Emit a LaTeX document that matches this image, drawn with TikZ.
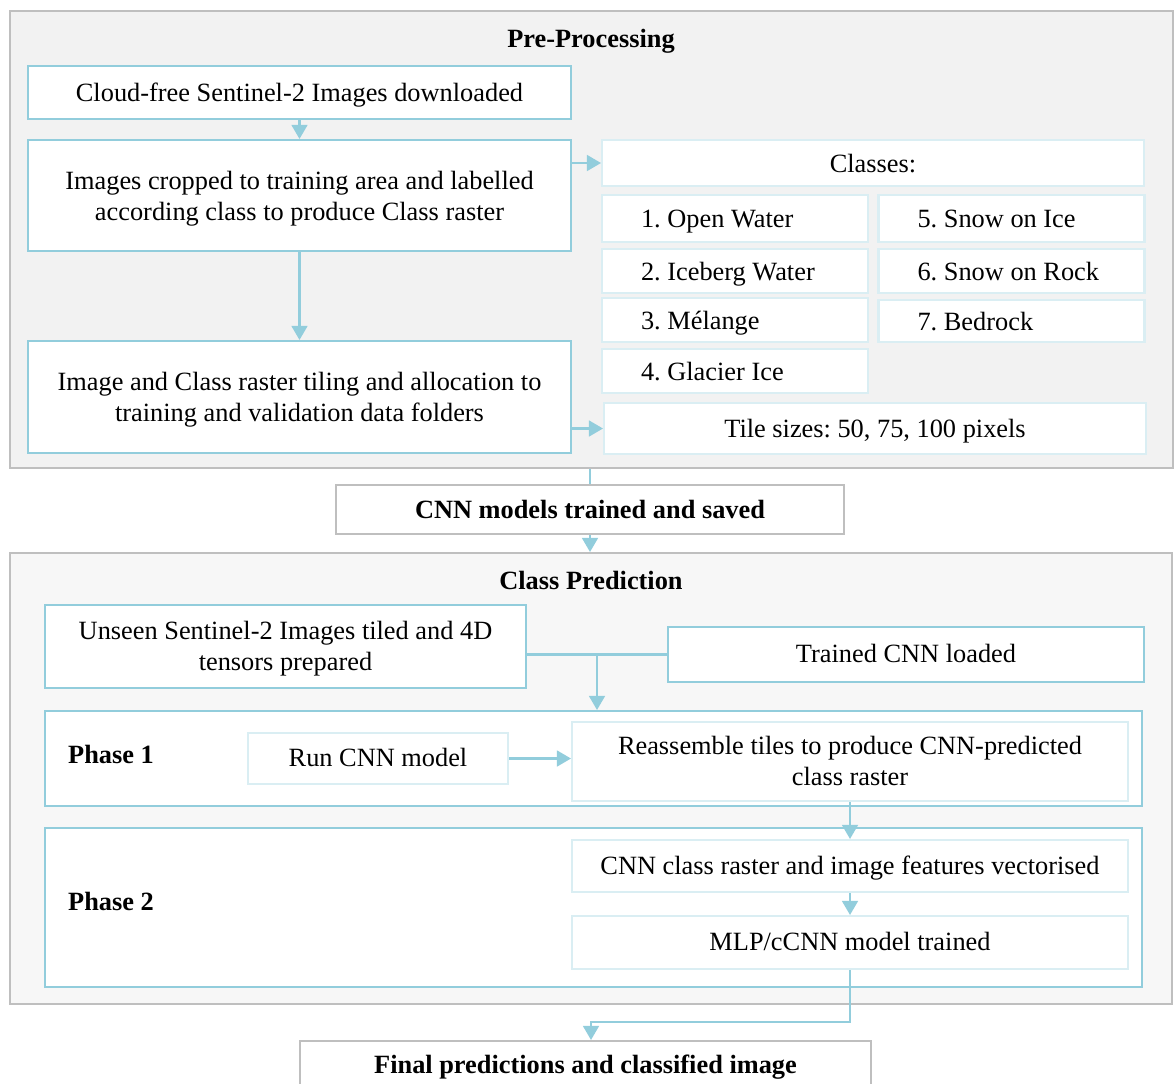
\documentclass[tikz,border=0pt]{standalone}
\usepackage{fontspec}
\setmainfont{Liberation Serif}
\usepackage{xcolor}
\usepackage{tikz}
\usetikzlibrary{arrows.meta,calc}

\definecolor{aqua}{HTML}{92CDDC}
\definecolor{aqualight}{HTML}{DAEEF3}
\definecolor{greyline}{HTML}{BFBFBF}
\definecolor{prefill}{HTML}{F2F2F2}
\definecolor{predfill}{HTML}{F7F7F7}

\begin{document}
\begin{tikzpicture}[x=0.02cm, y=-0.02cm,
  every node/.style={font=\fontsize{15}{17.6}\selectfont\frenchspacing},
  container/.style={rectangle, draw=greyline, line width=1.2pt, fill=#1},
  stepbox/.style={rectangle, draw=aqua, line width=1.2pt, fill=white, align=center},
  classbox/.style={rectangle, draw=aqualight, line width=1.2pt, fill=white, align=center},
  listbox/.style={classbox, align=flush left, text width=3.76cm, inner xsep=0.78cm},
  outcome/.style={rectangle, draw=greyline, line width=1.2pt, fill=white, font=\fontsize{15}{17.6}\selectfont\bfseries},
  heading/.style={font=\fontsize{15}{17.6}\selectfont\bfseries},
  link/.style={draw=aqua, line width=1.2pt},
  flow/.style={link, -{Triangle[length=8pt, width=9pt]}}]
\useasboundingbox (0,0) rectangle (1175,1083);
\clip (0,0) rectangle (1175,1083);

% pre-processing
\node (prepro) [container=prefill, minimum width=23.26cm, minimum height=9.14cm] at (591.5,239.5) {};
\begin{scope}[every node/.append style={text depth=-1.5pt}]
\node (pretitle) [heading] at (591,38) {Pre-Processing};
\node (cloud) [stepbox, minimum width=10.86cm, minimum height=1.06cm] at (299.5,92.5) {Cloud-free Sentinel-2 Images downloaded};
\node (crop) [stepbox, minimum width=10.86cm, minimum height=2.22cm] at (299.5,195.5) {Images cropped to training area and labelled\\according class to produce Class raster};
\node (tiling) [stepbox, minimum width=10.86cm, minimum height=2.24cm] at (299.5,397) {Image and Class raster tiling and allocation to\\training and validation data folders};

% classes
\node (classes) [classbox, minimum width=10.84cm, minimum height=0.92cm] at (873,163) {Classes:};
\node (open) [listbox, minimum height=0.94cm] at (735,218.5) {1. Open Water};
\node (iceberg) [listbox, minimum height=0.88cm] at (735,271) {2. Iceberg Water};
\node (melange) [listbox, minimum height=0.88cm] at (735,320) {3. Mélange};
\node (glacier) [listbox, minimum height=0.88cm] at (735,371) {4. Glacier Ice};
\node (snowice) [listbox, minimum height=0.94cm] at (1011.5,218.5) {5. Snow on Ice};
\node (snowrock) [listbox, minimum height=0.88cm] at (1011.5,271) {6. Snow on Rock};
\node (bedrock) [listbox, minimum height=0.84cm] at (1011.5,321) {7. Bedrock};
\node (tiles) [classbox, minimum width=10.84cm, minimum height=1.02cm] at (875,428.5) {Tile sizes: 50, 75, 100 pixels};
\end{scope}

\draw[flow] (cloud) -- (crop);
\draw[flow] (crop) -- (tiling);
\draw[flow] (crop.east |- classes.west) -- (classes.west);
\draw[flow] (tiling.east |- tiles.west) -- (tiles.west);

% training
\node (cnn) [outcome, minimum width=10.16cm, minimum height=0.98cm] at (590,509.5) {CNN models trained and saved};
\draw[link] (prepro.south -| cnn.north) -- (cnn.north);

% class prediction
\node (predict) [container=predfill, minimum width=23.24cm, minimum height=9.02cm] at (591,778.5) {};
\begin{scope}[every node/.append style={text depth=1pt}]
\node (predtitle) [heading] at (591,581) {Class Prediction};
\node (unseen) [stepbox, minimum width=9.62cm, minimum height=1.66cm] at (285.5,646.5) {Unseen Sentinel-2 Images tiled and 4D\\tensors prepared};
\node (trained) [stepbox, minimum width=9.52cm, minimum height=1.1cm] at (906,654.5) {Trained CNN loaded};

\node (phase1) [stepbox, minimum width=21.94cm, minimum height=1.9cm] at (593.5,758.5) {};
\node (phaseone) [heading, anchor=west] at (62,755) {Phase 1};
\node (run) [classbox, minimum width=5.2cm, minimum height=1.02cm] at (378,758.5) {Run CNN model};
\node (reass) [classbox, minimum width=11.12cm, minimum height=1.58cm] at (850,761.5) {Reassemble tiles to produce CNN-predicted\\class raster};

\node (phase2) [stepbox, minimum width=21.94cm, minimum height=3.18cm] at (593.5,907.5) {};
\node (phasetwo) [heading, anchor=west] at (62,902) {Phase 2};
\node (vect) [classbox, minimum width=11.12cm, minimum height=1.04cm] at (850,866) {CNN class raster and image features vectorised};
\node (mlp) [classbox, minimum width=11.12cm, minimum height=1.06cm] at (850,942.5) {MLP/cCNN model trained};
\end{scope}
\draw[flow] (cnn.south) -- (cnn.south |- predict.north);

\coordinate (join) at ($(unseen.east |- trained.west)!0.5!(trained.west)$);
\draw[link] (unseen.east |- trained.west) -- (trained.west);
\draw[flow] (join) -- (join |- phase1.north);
\draw[flow] (run) -- (run -| reass.west);
\draw[flow] (reass) -- (vect);
\draw[flow] (vect) -- (mlp);

% final output
\node (final) [outcome, minimum width=11.42cm, minimum height=0.92cm, text depth=0pt] at (585.5,1064) {Final predictions and classified image};
\coordinate (turn) at (591,1022);
\draw[flow] (mlp.south) |- (turn) -- (turn |- final.north);
\end{tikzpicture}
\end{document}
